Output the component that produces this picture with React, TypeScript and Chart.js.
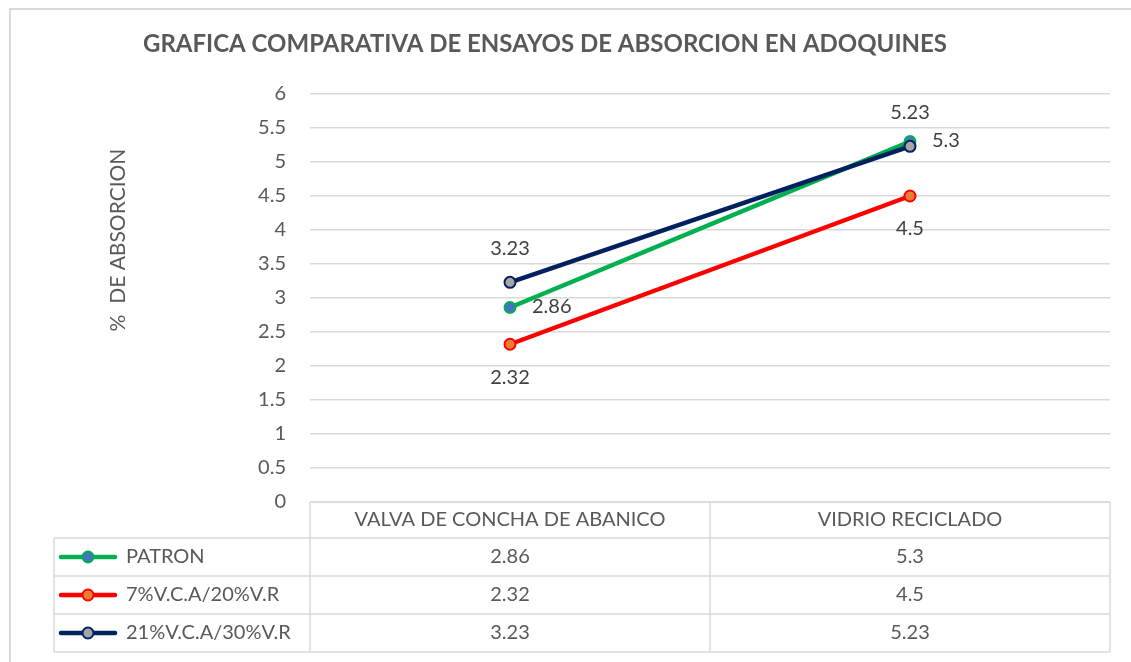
import React, { useEffect, useRef } from "react";
import { Chart, registerables } from "chart.js";

Chart.register(...registerables);

const chartTitle = "GRAFICA COMPARATIVA DE ENSAYOS DE ABSORCION EN ADOQUINES";
const yAxisTitle = "%  DE ABSORCION";
const categories = ["VALVA DE CONCHA DE ABANICO", "VIDRIO RECICLADO"];
const seriesNames = ["PATRON", "7%V.C.A/20%V.R", "21%V.C.A/30%V.R"];
const patronValues = [2.86, 5.3];
const mix1Values = [2.32, 4.5];
const mix2Values = [3.23, 5.23];
const tableText = [
  ["2.86", "5.3"],
  ["2.32", "4.5"],
  ["3.23", "5.23"],
];
const yMin = 0;
const yMax = 6;
const yStep = 0.5;

const lineColors = ["#00B050", "#FF0000", "#002060"];
const markerFills = ["#4472C4", "#ED7D31", "#A5A5A5"];
const labelPlacement = ["right", "below", "above"];

const FONT = "Lato, 'Open Sans', sans-serif";
const TEXT = "#595959";
const GRID = "#D9D9D9";

const decorPlugin = {
  id: "decor",
  beforeDraw(chart: any) {
    const ctx = chart.ctx;
    ctx.save();
    ctx.fillStyle = "#ffffff";
    ctx.fillRect(0, 0, chart.width, chart.height);
    ctx.strokeStyle = "#D9D9D9";
    ctx.lineWidth = 2;
    ctx.beginPath();
    ctx.moveTo(10, chart.height + 5);
    ctx.lineTo(10, 9);
    ctx.lineTo(chart.width + 5, 9);
    ctx.stroke();
    ctx.restore();
  },
  afterDraw(chart: any) {
    const ctx = chart.ctx;
    const area = chart.chartArea;
    const xs = chart.scales.x;
    ctx.save();
    // title
    ctx.fillStyle = TEXT;
    ctx.font = `bold 24px ${FONT}`;
    ctx.textAlign = "center";
    ctx.textBaseline = "middle";
    ctx.fillText(chartTitle, 545, 44);
    // y axis title
    ctx.save();
    ctx.translate(118, 240);
    ctx.rotate(-Math.PI / 2);
    ctx.font = `21px ${FONT}`;
    ctx.fillText(yAxisTitle, 0, 0);
    ctx.restore();

    // data labels
    ctx.font = `20px ${FONT}`;
    ctx.fillStyle = "#404040";
    chart.data.datasets.forEach((ds: any, i: number) => {
      const meta = chart.getDatasetMeta(i);
      meta.data.forEach((pt: any, j: number) => {
        const txt = String(ds.data[j]);
        const p = labelPlacement[i];
        if (p === "right") {
          ctx.textAlign = "left";
          ctx.fillText(txt, pt.x + 22, pt.y - 1);
        } else if (p === "below") {
          ctx.textAlign = "center";
          ctx.fillText(txt, pt.x, pt.y + 33);
        } else {
          ctx.textAlign = "center";
          ctx.fillText(txt, pt.x, pt.y - 34);
        }
      });
    });

    // data table
    const left = area.left;
    const right = area.right;
    const top = area.bottom;
    const headerH = 36;
    const rowH = 38;
    const legendLeft = 54;
    const nRows = seriesNames.length;
    const bottom = top + headerH + rowH * nRows;
    const centers = categories.map((_, k) => xs.getPixelForValue(k));
    const dividers = [left];
    for (let k = 0; k < centers.length - 1; k++) dividers.push((centers[k] + centers[k + 1]) / 2);
    dividers.push(right);

    ctx.strokeStyle = GRID;
    ctx.lineWidth = 1.5;
    ctx.beginPath();
    ctx.moveTo(left, top);
    ctx.lineTo(right, top);
    for (let r = 0; r <= nRows; r++) {
      const y = top + headerH + rowH * r;
      ctx.moveTo(legendLeft, y);
      ctx.lineTo(right, y);
    }
    dividers.forEach((x) => {
      ctx.moveTo(x, top);
      ctx.lineTo(x, bottom);
    });
    ctx.moveTo(legendLeft, top + headerH);
    ctx.lineTo(legendLeft, bottom);
    ctx.stroke();

    ctx.fillStyle = TEXT;
    ctx.font = `20px ${FONT}`;
    ctx.textAlign = "center";
    ctx.textBaseline = "middle";
    categories.forEach((c, k) => ctx.fillText(c, centers[k], top + headerH / 2));
    for (let r = 0; r < nRows; r++) {
      const cy = top + headerH + rowH * r + rowH / 2;
      tableText[r].forEach((t, k) => {
        ctx.fillStyle = TEXT;
        ctx.textAlign = "center";
        ctx.fillText(t, centers[k], cy);
      });
      ctx.strokeStyle = lineColors[r];
      ctx.lineWidth = 4.5;
      ctx.lineCap = "round";
      ctx.beginPath();
      ctx.moveTo(61, cy);
      ctx.lineTo(115, cy);
      ctx.stroke();
      ctx.beginPath();
      ctx.arc(88, cy, 5.5, 0, Math.PI * 2);
      ctx.fillStyle = markerFills[r];
      ctx.fill();
      ctx.lineWidth = 2;
      ctx.stroke();
      ctx.fillStyle = TEXT;
      ctx.textAlign = "left";
      ctx.fillText(seriesNames[r], 126, cy);
    }
    ctx.restore();
  },
};

export default function App() {
  const ref = useRef<HTMLCanvasElement | null>(null);
  useEffect(() => {
    document.body.style.margin = "0";
    const canvas = ref.current;
    if (!canvas) return;
    const allValues = [patronValues, mix1Values, mix2Values];
    const chart = new Chart(canvas, {
      type: "line",
      data: {
        labels: categories,
        datasets: allValues.map((vals, i) => ({
          label: seriesNames[i],
          data: vals,
          order: allValues.length - 1 - i,
          borderColor: lineColors[i],
          backgroundColor: markerFills[i],
          borderWidth: 4.5,
          pointRadius: 5.5,
          pointBorderWidth: 2,
          pointBorderColor: lineColors[i],
          pointBackgroundColor: markerFills[i],
          tension: 0,
          fill: false,
        })),
      },
      options: {
        responsive: false,
        animation: false,
        devicePixelRatio: 1,
        layout: { padding: { left: 0, right: 21, top: 94, bottom: 160 } },
        plugins: {
          legend: { display: false },
          title: { display: false },
          tooltip: { enabled: false },
        },
        scales: {
          x: {
            offset: true,
            display: false,
            grid: { display: false },
          },
          y: {
            min: yMin,
            max: yMax,
            border: { display: false },
            grid: { color: GRID, lineWidth: 1.5, drawTicks: false },
            ticks: {
              stepSize: yStep,
              color: TEXT,
              font: { family: FONT, size: 20 },
              padding: 24,
              callback: (v: any) => String(Number(v)),
            },
            afterFit(scale: any) {
              scale.width = 310;
            },
          },
        },
      },
      plugins: [decorPlugin],
    });
    return () => chart.destroy();
  }, []);
  return <canvas ref={ref} width={1131} height={662} style={{ display: "block" }} />;
}
